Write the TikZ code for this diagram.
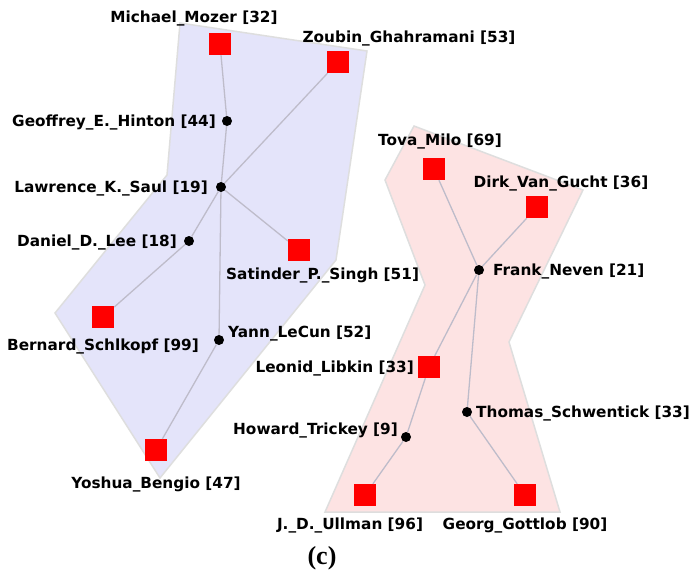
\documentclass[tikz,border=0pt]{standalone}
\usepackage{fontspec}
\setmainfont{DejaVu Sans}
\newfontfamily\capfont{Liberation Serif}
\definecolor{hullblue}{RGB}{228,228,250}
\definecolor{hullpink}{RGB}{253,227,227}
\definecolor{hullline}{RGB}{222,222,222}
\definecolor{tiegray}{RGB}{190,188,202}
\begin{document}
\begin{tikzpicture}[x=1pt,y=-1pt]
        \tikzstyle{every node}+=[inner sep=0pt]
        \tikzstyle{author}=[fill=red, minimum size=22pt]
        \tikzstyle{hub}=[circle, fill=black, minimum size=10pt]
        \tikzstyle{whotext}=[font=\fontsize{15.3}{18}\selectfont\bfseries]
        \tikzstyle{tie}=[draw=tiegray, line width=1.3pt]
        \useasboundingbox (0,0) rectangle (691,571);
        % hulls
        \draw [hullline, fill=hullblue, line width=1.5pt] (180,23) -- (367,51) -- (336,260) -- (160,478) -- (55,313) -- (167,175) -- cycle;
        \draw [hullline, fill=hullpink, line width=1.5pt] (414,126) -- (583,190) -- (509,342) -- (560,512) -- (325,512) -- (425,285) -- (385,180) -- cycle;
        % first group
        \node [author] (mozer) at (220,44) {};
        \node [author] (zoubin) at (338,62) {};
        \node [hub] (hinton) at (227,121) {};
        \node [hub] (saul) at (221,187) {};
        \node [hub] (lee) at (189,241) {};
        \node [author] (singh) at (299,250) {};
        \node [author] (scholkopf) at (103,317) {};
        \node [hub] (lecun) at (219,340) {};
        \node [author] (bengio) at (156,450) {};
        \draw [tie] (mozer) -- (hinton);
        \draw [tie] (hinton) -- (saul);
        \draw [tie] (saul) -- (zoubin);
        \draw [tie] (saul) -- (lee);
        \draw [tie] (saul) -- (singh);
        \draw [tie] (saul) -- (lecun);
        \draw [tie] (lee) -- (scholkopf);
        \draw [tie] (lecun) -- (bengio);
        \node [whotext] (mozerlbl) at (194,18) {Michael\_Mozer [32]};
        \node [whotext] (zoubinlbl) at (409,38) {Zoubin\_Ghahramani [53]};
        \node [whotext, anchor=east] (hintonlbl) at (216,122) {Geoffrey\_E.\_Hinton [44]};
        \node [whotext, anchor=east] (saullbl) at (208,188) {Lawrence\_K.\_Saul [19]};
        \node [whotext, anchor=east] (leelbl) at (177,242) {Daniel\_D.\_Lee [18]};
        \node [whotext, anchor=west] (singhlbl) at (226,275) {Satinder\_P.\_Singh [51]};
        \node [whotext] (scholkopflbl) at (103,346) {Bernard\_Schlkopf [99]};
        \node [whotext, anchor=west] (lecunlbl) at (228,333) {Yann\_LeCun [52]};
        \node [whotext] (bengiolbl) at (156,484) {Yoshua\_Bengio [47]};
        % second group
        \node [author] (milo) at (434,169) {};
        \node [author] (gucht) at (537,207) {};
        \node [hub] (neven) at (479,270) {};
        \node [author] (libkin) at (429,367) {};
        \node [hub] (schwentick) at (467,412) {};
        \node [hub] (trickey) at (406,437) {};
        \node [author] (ullman) at (365,495) {};
        \node [author] (gottlob) at (525,495) {};
        \draw [tie] (milo) -- (neven);
        \draw [tie] (gucht) -- (neven);
        \draw [tie] (neven) -- (libkin);
        \draw [tie] (neven) -- (schwentick);
        \draw [tie] (libkin) -- (trickey);
        \draw [tie] (trickey) -- (ullman);
        \draw [tie] (schwentick) -- (gottlob);
        \node [whotext] (milolbl) at (440,141) {Tova\_Milo [69]};
        \node [whotext] (guchtlbl) at (561,183) {Dirk\_Van\_Gucht [36]};
        \node [whotext, anchor=west] (nevenlbl) at (493,271) {Frank\_Neven [21]};
        \node [whotext, anchor=east] (libkinlbl) at (414,368) {Leonid\_Libkin [33]};
        \node [whotext, anchor=west] (schwentlbl) at (476,413) {Thomas\_Schwentick [33]};
        \node [whotext, anchor=east] (trickeylbl) at (398,430) {Howard\_Trickey [9]};
        \node [whotext] (ullmanlbl) at (350,525) {J.\_D.\_Ullman [96]};
        \node [whotext] (gottloblbl) at (525,525) {Georg\_Gottlob [90]};
        \node [font=\capfont\fontsize{26}{30}\selectfont\bfseries] (caption) at (322,558) {(c)};
\end{tikzpicture}
\end{document}
